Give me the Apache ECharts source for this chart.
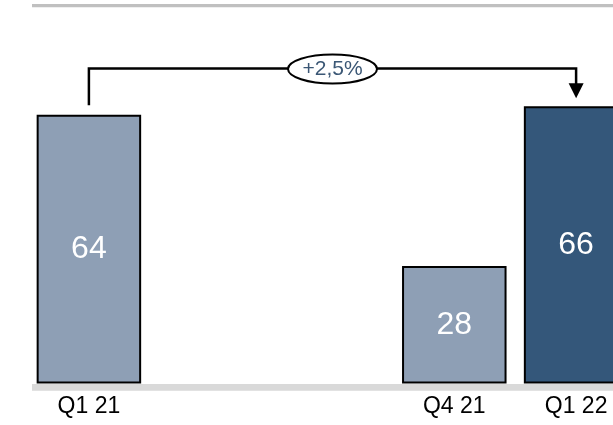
<!DOCTYPE html>
<html><head><meta charset="utf-8">
<script src="https://cdn.jsdelivr.net/npm/echarts@6/dist/echarts.min.js"></script>
<style>html,body{margin:0;padding:0;background:#fff}#c{width:613px;height:425px}</style>
</head><body><div id="c"></div>
<script>
// ---- data ----
const categories = ['Q1 21', '', '', 'Q4 21', 'Q1 22'];
const values = [64, null, null, 28, 66];
const growthLabel = '+2,5%';
const bracketFrom = 0;
const bracketTo = 4;
const bracketLevel = 75;

// ---- style ----
const LIGHT = '#8e9fb5', DARK = '#34577a';
const FONT = "'Liberation Sans', Arial, sans-serif";

const chart = echarts.init(document.getElementById('c'), null, {renderer: 'canvas'});
chart.setOption({
  animation: false,
  backgroundColor: '#fff',
  grid: {left: 28, width: 609, top: 47.5, bottom: 41.5, containLabel: false, outerBoundsMode: 'none'},
  xAxis: {
    type: 'category', data: categories,
    axisLine: {show: false}, axisTick: {show: false},
    axisLabel: {interval: 0, margin: 12, fontSize: 23, color: '#000', fontFamily: FONT}
  },
  yAxis: {type: 'value', min: 0, max: 80, show: false},
  series: [{
    type: 'bar', z: 5,
    data: values.map((v, i) => ({value: v, itemStyle: {color: i === values.length - 1 ? DARK : LIGHT}})),
    barWidth: 104.5,
    itemStyle: {borderColor: '#000', borderWidth: 2},
    label: {show: true, position: 'inside', color: '#fff', fontSize: 32, fontFamily: FONT}
  }]
});

const a = chart.convertToPixel({seriesIndex: 0}, [bracketFrom, values[bracketFrom]]);
const b = chart.convertToPixel({seriesIndex: 0}, [bracketTo, values[bracketTo]]);
const yL = chart.convertToPixel({yAxisIndex: 0}, bracketLevel);
const y0 = chart.convertToPixel({yAxisIndex: 0}, 0);
const midX = (a[0] + b[0]) / 2;
const tipY = b[1] - 8;

chart.setOption({
  graphic: [
    {type: 'rect', z: 1, shape: {x: 32, y: 4, width: 581, height: 3.3}, style: {fill: '#c0c0c0'}},
    {type: 'rect', z: 1, shape: {x: 32, y: y0 + 0.5, width: 581, height: 6.7}, style: {fill: '#d9d9d9'}},
    {type: 'polyline', z: 10, shape: {points: [[a[0], a[1] - 9.5], [a[0], yL], [b[0], yL], [b[0], tipY - 14]]},
      style: {stroke: '#000', lineWidth: 2.5, fill: null}},
    {type: 'polygon', z: 10, shape: {points: [[b[0] - 7.5, tipY - 15], [b[0] + 7.5, tipY - 15], [b[0], tipY]]},
      style: {fill: '#000'}},
    {type: 'ellipse', z: 11, shape: {cx: midX, cy: yL + 0.5, rx: 44.5, ry: 14.5}, style: {fill: '#fff', stroke: '#000', lineWidth: 2}},
    {type: 'text', z: 12, x: midX, y: yL + 1, style: {text: growthLabel, fill: '#3b5775', fontSize: 21, fontFamily: FONT, align: 'center', verticalAlign: 'middle'}}
  ]
});
</script></body></html>
